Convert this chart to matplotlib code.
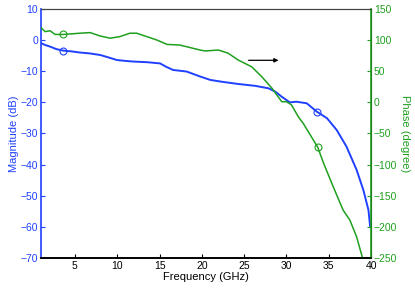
import matplotlib
matplotlib.use("Agg")
import matplotlib.pyplot as plt

plt.rcParams['font.family'] = ['Liberation Sans', 'DejaVu Sans']

# magnitude curve (dB)
freq_mag = [1.0, 1.5, 2.06, 2.8, 3.64, 4.5, 5.6, 6.8, 8.0, 9.0, 9.95, 11.0, 11.9,
            13.5, 15.07, 15.8, 16.6, 18.2, 19.8, 21.0, 22.4, 24.3, 26.3, 27.9,
            28.7, 29.45, 30.4, 31.2, 32.4, 33.6, 34.8, 35.95, 37.1, 38.3, 39.1,
            39.7, 39.9]
mag = [-1.0, -1.6, -2.1, -2.9, -3.4, -3.6, -4.0, -4.3, -4.8, -5.6, -6.4, -6.7, -6.9,
       -7.1, -7.5, -8.6, -9.6, -10.1, -11.7, -12.8, -13.4, -14.1, -14.7, -15.5,
       -16.6, -18.2, -20.0, -19.8, -20.3, -23.0, -25.1, -28.9, -34.2, -41.7, -48.2,
       -54.6, -60.0]

# phase curve (degree)
freq_ph = [1.0, 1.47, 2.06, 2.65, 3.64, 4.6, 5.6, 6.8, 7.97, 9.16, 10.3, 11.5, 12.3,
           13.5, 14.7, 15.9, 17.4, 18.6, 19.8, 20.4, 21.96, 23.1, 24.3, 25.9,
           27.1, 28.3, 29.45, 30.0, 30.6, 31.4, 32.0, 33.7, 34.4, 35.55, 36.7,
           37.5, 38.3, 39.0]
phase = [120, 113.5, 115, 109, 109, 110, 111, 112, 106.6, 103, 105.5, 111, 111,
         105.5, 100, 93, 92, 88, 84, 82.5, 84, 79, 68, 57,
         41, 22.5, 1, 1, -4, -23, -34, -72, -98, -136, -173,
         -189, -216, -250]

mag_marks_f = [3.64, 33.6]
mag_marks = [-3.4, -23.0]
ph_marks_f = [3.64, 33.7]
ph_marks = [109, -72]

blue = '#2040ff'
green = '#1fa01f'

fig = plt.figure(figsize=(4.15, 2.88), dpi=100)
ax = fig.add_axes([0.099, 0.104, 0.795, 0.865])
ax2 = ax.twinx()

ax.plot(freq_mag, mag, color=blue, lw=1.4)
ax.plot(mag_marks_f, mag_marks, 'o', mfc='none', mec=blue, ms=5, mew=0.8)
ax2.plot(freq_ph, phase, color=green, lw=1.1)
ax2.plot(ph_marks_f, ph_marks, 'o', mfc='none', mec=green, ms=5, mew=0.8)

ax.annotate('', xy=(29.4, -6.5), xytext=(25.2, -6.5),
            arrowprops=dict(arrowstyle='-|>', color='black', lw=0.9,
                            mutation_scale=6))

ax.set_xlim(1, 40)
ax.set_ylim(-70, 10)
ax2.set_ylim(-250, 150)
ax.set_xticks([5, 10, 15, 20, 25, 30, 35, 40])
ax.set_yticks(range(-70, 11, 10))
ax2.set_yticks(range(-250, 151, 50))

ax.tick_params(direction='in', length=3, labelsize=7.5, pad=2)
ax.tick_params(axis='y', colors=blue)
ax.tick_params(axis='x', colors='black')
ax2.tick_params(direction='in', length=3, labelsize=7.5, pad=2, colors=green)

for a in (ax, ax2):
    a.spines['bottom'].set_color('black')
    a.spines['bottom'].set_linewidth(1.2)
    a.spines['top'].set_color('#444444')
ax.spines['left'].set_color(blue)
ax.spines['left'].set_linewidth(1.2)
ax2.spines['left'].set_visible(False)
ax2.spines['right'].set_color(green)
ax2.spines['right'].set_linewidth(1.2)

ax.set_xlabel('Frequency (GHz)', fontsize=8, labelpad=1)
ax.set_ylabel('Magnitude (dB)', fontsize=8, color=blue, labelpad=1)
ax2.set_ylabel('Phase (degree)', fontsize=8, color=green, rotation=270, labelpad=9)

fig.savefig('out.png', dpi=100)
